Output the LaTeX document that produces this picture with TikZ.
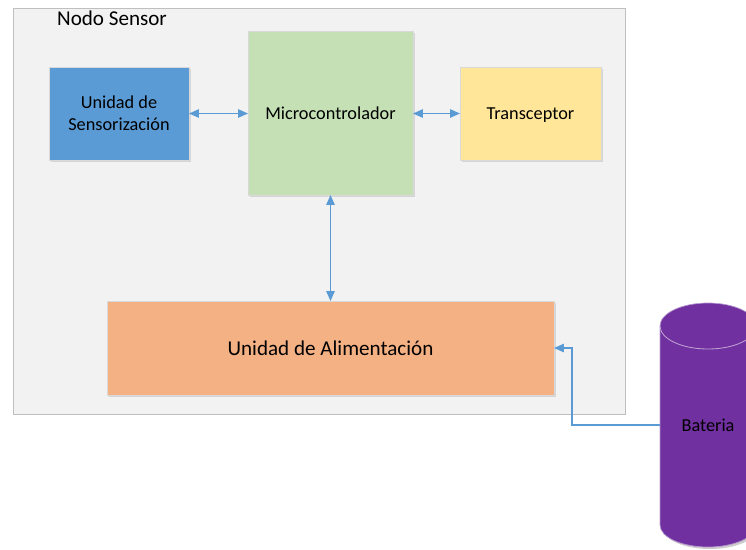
\documentclass[tikz,border=0pt]{standalone}
\usepackage{fontspec}
\setmainfont{Carlito}
\usetikzlibrary{arrows.meta,shadows}
\definecolor{framegray}{HTML}{F2F2F2}
\definecolor{sensblue}{HTML}{5B9BD5}
\definecolor{microgreen}{HTML}{C5E0B4}
\definecolor{transyellow}{HTML}{FFE699}
\definecolor{alimorange}{HTML}{F4B183}
\definecolor{batpurple}{HTML}{7030A0}
\definecolor{linkblue}{HTML}{5B9BD5}
\tikzset{
  block/.style={draw=black!15, inner sep=0pt, outer sep=0pt, align=center,
    font=\fontsize{13}{15.6}\selectfont,
    drop shadow={shadow xshift=1.2pt, shadow yshift=-1.2pt, opacity=0.25}},
  link/.style={linkblue, line width=0.8pt, {Triangle[length=7pt,width=6pt]}-{Triangle[length=7pt,width=6pt]}},
  feed/.style={linkblue, line width=0.8pt, -{Triangle[length=7pt,width=6pt]}}
}
\begin{document}
\begin{tikzpicture}[x=0.025cm, y=-0.025cm]
    \clip (0,0) rectangle (746,549);

    % Frame of the sensor node
    \node[draw=black!25, fill=framegray, inner sep=0pt, minimum width=15.3cm, minimum height=10.15cm,
      drop shadow={shadow xshift=1pt, shadow yshift=-1pt, opacity=0.15}] (nodo) at (319,211) {};
    \node[font=\fontsize{15}{18}\selectfont] (titulo) at (112,18) {Nodo Sensor};

    % Blocks
    \node[block, fill=sensblue, minimum width=3.5cm, minimum height=2.325cm] (sensor) at (119,113.5) {Unidad de\\Sensorización};
    \node[block, fill=microgreen, minimum width=4.125cm, minimum height=4.1cm] (micro) at (330.5,113) {Microcontrolador};
    \node[block, fill=transyellow, minimum width=3.525cm, minimum height=2.325cm, text depth=0pt] (trans) at (530.5,113.5) {Transceptor};
    \node[block, fill=alimorange, minimum width=11.175cm, minimum height=2.35cm,
      font=\fontsize{15}{18}\selectfont] (alim) at (330.5,348) {Unidad de Alimentación};

    % Battery
    \fill[black, opacity=0.2] (662,328) -- (662,527) arc (180:0:48 and 22) -- (758,328) -- cycle;
    \filldraw[batpurple, draw=batpurple!50!white, line width=0.5pt]
      (660,326) -- (660,525) arc (180:0:48 and 22) -- (756,326) arc (0:-180:48 and 23) -- cycle;
    \draw[batpurple!45!white, line width=0.6pt] (660,326) arc (180:0:48 and 23);
    \node[font=\fontsize{13}{15.6}\selectfont] (bat) at (708,425) {Bateria};
    \coordinate (batL) at (660,425);

    % Links
    \draw[link] (sensor.east) -- (sensor.east -| micro.west);
    \draw[link] (micro.east |- trans.west) -- (trans.west);
    \draw[link] (micro.south) -- (alim.north);
    \draw[feed] (batL) -- ++(-88,0) |- (alim.east);
\end{tikzpicture}
\end{document}
